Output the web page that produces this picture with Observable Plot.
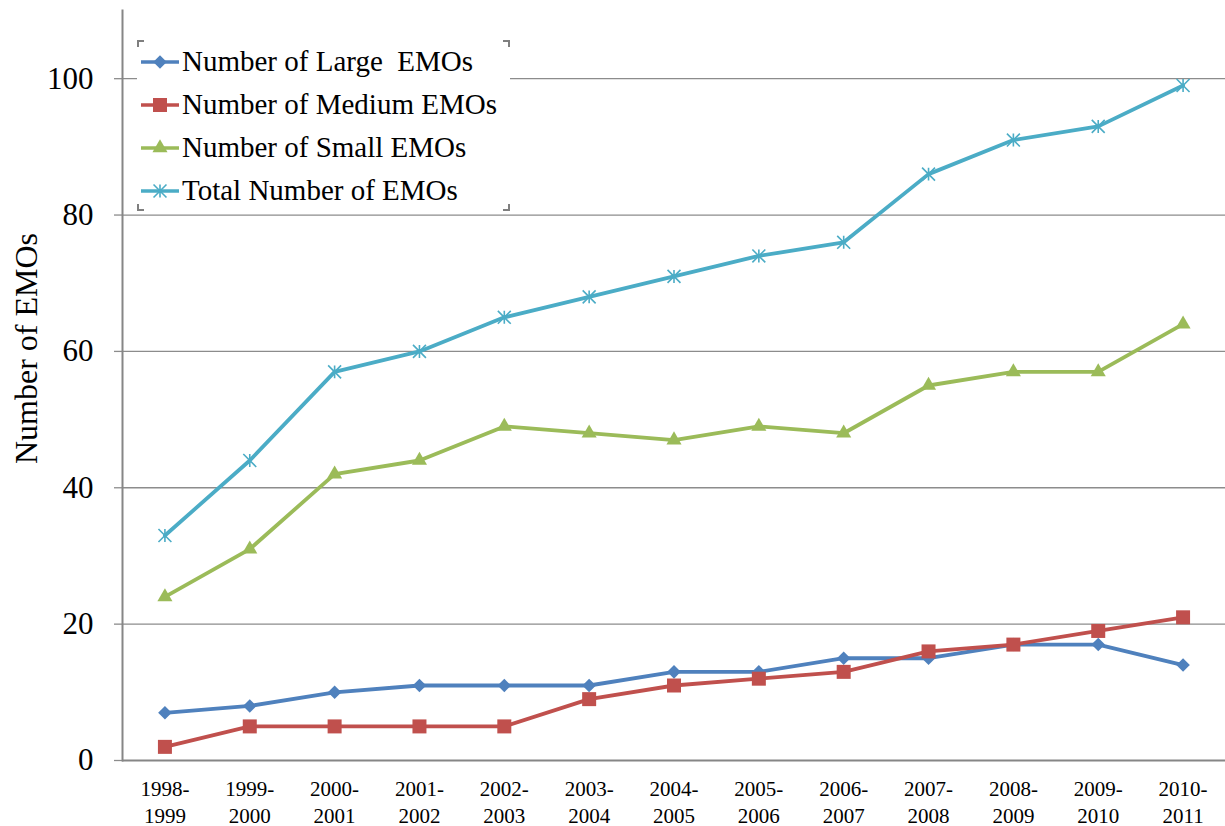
<!DOCTYPE html>
<html>
<head>
<meta charset="utf-8">
<script src="https://cdn.jsdelivr.net/npm/d3@7"></script>
<script src="https://cdn.jsdelivr.net/npm/@observablehq/plot@0.6"></script>
<style>
  body { margin: 0; background: #fff; }
  #wrap { position: relative; width: 1225px; height: 826px; font-family: "Liberation Serif", "Times New Roman", Times, "DejaVu Serif", serif; }
  #wrap svg text { font-family: "Liberation Serif", "Times New Roman", Times, "DejaVu Serif", serif; }
  #legend { position: absolute; left: 137px; top: 40px; width: 373px; height: 171px; background: #fff; }
  .row { position: absolute; left: 0; height: 43px; display: flex; align-items: center; font-size: 29px; color: #000; white-space: pre; }
  .row svg { margin-left: 4px; margin-right: 3px; }
  .corner { position: absolute; width: 5px; height: 5px; border-color: #7f7f7f; border-style: solid; border-width: 0; }
</style>
</head>
<body>
<div id="wrap"></div>
<script>
const years = ["1998-1999","1999-2000","2000-2001","2001-2002","2002-2003","2003-2004","2004-2005","2005-2006","2006-2007","2007-2008","2008-2009","2009-2010","2010-2011"];
const large  = [7, 8, 10, 11, 11, 11, 13, 13, 15, 15, 17, 17, 14];
const medium = [2, 5, 5, 5, 5, 9, 11, 12, 13, 16, 17, 19, 21];
const small  = [24, 31, 42, 44, 49, 48, 47, 49, 48, 55, 57, 57, 64];
const total  = [33, 44, 57, 60, 65, 68, 71, 74, 76, 86, 91, 93, 99];
const seriesNames = ["Number of Large  EMOs", "Number of Medium EMOs", "Number of Small EMOs", "Total Number of EMOs"];
const seriesValues = [large, medium, small, total];
const colors = ["#4F81BD", "#C0504D", "#9BBB59", "#4BACC6"];
const yTicks = [0, 20, 40, 60, 80, 100];

const FONT = '"Liberation Serif", "Times New Roman", Times, "DejaVu Serif", serif';

// Excel-like star marker: an "x" plus a vertical bar
const starSymbol = {
  draw(ctx, size) {
    const r = Math.sqrt(size) / 2;
    ctx.moveTo(0, -r); ctx.lineTo(0, r);
    ctx.moveTo(-r, -r); ctx.lineTo(r, r);
    ctx.moveTo(-r, r); ctx.lineTo(r, -r);
  }
};
const markerSpecs = [
  {symbol: "square", r: 5.4, rotate: 45, filled: true},
  {symbol: "square", r: 7.9, rotate: 0, filled: true},
  {symbol: "triangle", r: 5.6, rotate: 0, filled: true},
  {symbol: starSymbol, r: 7.3, rotate: 0, filled: false}
];

const rows = seriesNames.map((name, i) => years.map((yr, j) => ({series: name, year: yr, value: seriesValues[i][j]})));

const seriesMarks = rows.flatMap((data, i) => {
  const m = markerSpecs[i];
  return [
    Plot.line(data, {x: "year", y: "value", stroke: colors[i], strokeWidth: 3.8, strokeLinejoin: "round"}),
    Plot.dot(data, {
      x: "year", y: "value", symbol: m.symbol, r: m.r, rotate: m.rotate,
      fill: m.filled ? colors[i] : "none", stroke: colors[i], strokeWidth: m.filled ? 0 : 1.6
    })
  ];
});

const chart = Plot.plot({
  width: 1225,
  height: 826,
  marginLeft: 122,
  marginRight: 0,
  marginTop: 10,
  marginBottom: 66,
  style: {fontFamily: FONT, background: "#fff", color: "#000", overflow: "visible"},
  x: {type: "point", domain: years, padding: 0.5, round: false},
  y: {domain: [0, 110]},
  marks: [
    Plot.gridY(yTicks.filter(d => d > 0), {stroke: "#8c8c8c", strokeOpacity: 1, strokeWidth: 1.3}),
    Plot.axisY(yTicks, {tickSize: 8, tickPadding: 21, fontSize: 31, label: null, stroke: "#8c8c8c", strokeWidth: 1.3, color: "#000"}),
    Plot.frame({anchor: "left", stroke: "#868686", strokeWidth: 2}),
    Plot.ruleY([0], {stroke: "#868686", strokeWidth: 2}),
    Plot.axisX({tickSize: 0, tickPadding: 16, fontSize: 21, lineHeight: 1.3, label: null, tickFormat: d => d.replace("-", "-\n")}),
    Plot.text(["Number of EMOs"], {frameAnchor: "left", textAnchor: "middle", lineAnchor: "middle", rotate: -90, dx: -96, dy: -37, fontSize: 32, fill: "#000"}),
    ...seriesMarks
  ]
});

const wrap = document.getElementById("wrap");
wrap.appendChild(chart);

// Legend (HTML overlay)
const legend = document.createElement("div");
legend.id = "legend";
wrap.appendChild(legend);
[["left:0;top:0", "border-left-width:2px;border-top-width:2px"],
 ["right:0;top:0", "border-right-width:2px;border-top-width:2px"],
 ["left:0;bottom:0", "border-left-width:2px;border-bottom-width:2px"],
 ["right:0;bottom:0", "border-right-width:2px;border-bottom-width:2px"]].forEach(([pos, b]) => {
  const c = document.createElement("div");
  c.className = "corner";
  c.setAttribute("style", pos + ";" + b);
  legend.appendChild(c);
});
seriesNames.forEach((name, i) => {
  const row = document.createElement("div");
  row.className = "row";
  row.style.top = (i * 43) + "px";
  const m = markerSpecs[i];
  const sym = d3.symbol(typeof m.symbol === "string" ? (m.symbol === "square" ? d3.symbolSquare : d3.symbolTriangle) : m.symbol, m.r * m.r * Math.PI)();
  const svg = d3.create("svg").attr("width", 38).attr("height", 20);
  svg.append("line").attr("x1", 0).attr("x2", 38).attr("y1", 10).attr("y2", 10).attr("stroke", colors[i]).attr("stroke-width", 3.6);
  svg.append("path").attr("d", sym).attr("transform", `translate(19,10) rotate(${m.rotate})`)
    .attr("fill", m.filled ? colors[i] : "none").attr("stroke", colors[i]).attr("stroke-width", m.filled ? 0 : 1.6);
  row.appendChild(svg.node());
  const t = document.createElement("span");
  t.textContent = name;
  row.appendChild(t);
  legend.appendChild(row);
});
</script>
</body>
</html>
